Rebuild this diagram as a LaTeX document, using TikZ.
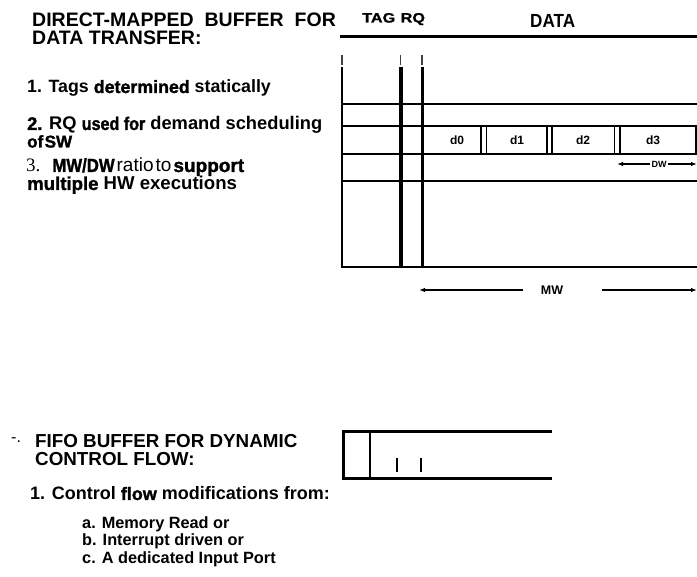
\documentclass[tikz,border=0pt]{standalone}
\usepackage{fontspec}
\setmainfont{Liberation Sans}
\newfontfamily\heavyfont[FakeBold=1.5]{Liberation Sans}
\newfontfamily\condheavy[FakeStretch=0.88,FakeBold=1.5]{Liberation Sans}
\newfontfamily\widefont[FakeStretch=1.2,FakeBold=1.2]{Liberation Sans}
\newfontfamily\datafont[FakeStretch=0.9]{Liberation Sans}
\newfontfamily\seriffont{Liberation Serif}
\usetikzlibrary{arrows.meta}
\begin{document}
\begin{tikzpicture}[x=1pt,y=-1pt,
  txt/.style={anchor=base west,inner sep=0pt,text depth=0pt,font=\bfseries\fontsize{18.3}{18.3}\selectfont},
  ttl/.style={txt,font=\bfseries\fontsize{19.5}{19.5}\selectfont},
  sub/.style={txt,font=\bfseries\fontsize{16.3}{16.3}\selectfont},
  cell/.style={inner sep=0pt,font=\bfseries\fontsize{12}{12}\selectfont},
  grid/.style={line width=2pt},
  sep/.style={line width=1.2pt},
  dim/.style={line width=1.6pt,-{Latex[length=6pt,width=4.5pt]}},
  hdr/.style={anchor=base west,inner sep=0pt}]
\useasboundingbox (0,0) rectangle (697,577);

% ---------- top texts ----------
\node[ttl] (t1) at (32,27) {DIRECT-MAPPED\hspace{11pt}BUFFER\hspace{11pt}FOR};
\node[ttl] (t2) at (32,45) {DATA TRANSFER:};
\node[txt,font=\bfseries\fontsize{17.8}{17.8}\selectfont] (i1) at (27,93) {1. Tags {\heavyfont\bfseries determined} statically};
\node[txt] (i2) at (27,130) {{\heavyfont\bfseries 2.} RQ {\condheavy\bfseries used for} demand scheduling};
\node[txt,font=\bfseries\fontsize{17}{17}\selectfont] (i2b) at (27,147.5) {{\heavyfont\bfseries of\hspace{1.5pt}SW}};
\node[txt,font=\bfseries\fontsize{19}{19}\selectfont] (i3) at (26,172) {{\seriffont\mdseries 3.}\hspace{12pt}{\condheavy\bfseries MW/DW}\hspace{2pt}{\mdseries ratio\hspace{2pt}to}\hspace{2pt}{\heavyfont\bfseries support}};
\node[txt,font=\bfseries\fontsize{18.6}{18.6}\selectfont] (i3b) at (27,190) {{\heavyfont\bfseries multiple} HW executions};

% ---------- header labels ----------
\node[hdr,font=\widefont\bfseries\fontsize{13.5}{13.5}\selectfont] (tag) at (362,22.5) {TAG};
\node[hdr,font=\widefont\bfseries\fontsize{13.5}{13.5}\selectfont] (rq) at (400.5,22.5) {RQ};
\node[hdr,font=\datafont\bfseries\fontsize{19}{19}\selectfont] (data) at (530,27.5) {DATA};

% ---------- direct-mapped buffer ----------
\draw[line width=3pt] (340,37) -- (697,37);
\foreach \x in {342,400.5,422}{
  \draw[line width=1.4pt,black!75] (\x,55) -- (\x,65);
}
\draw[line width=2.7pt] (342,67) -- (342,268);
\draw[line width=4pt] (400.5,67) -- (400.5,268);
\draw[line width=3pt] (422,67) -- (422,268);
\foreach \y in {104,126,154,181}{
  \draw[grid] (342,\y) -- (697,\y);
}
\draw[line width=2.4pt] (340.5,267) -- (697,267);
\foreach \x in {481,486.5,547,552,614.5,620}{
  \draw[sep] (\x,126) -- (\x,154);
}
\draw[line width=1.6pt] (696,126) -- (696,154);
\node[cell] (d0) at (457,140) {d0};
\node[cell] (d1) at (517,140) {d1};
\node[cell] (d2) at (583,140) {d2};
\node[cell] (d3) at (653,140) {d3};

% DW
\node[cell,font=\bfseries\fontsize{9}{9}\selectfont,inner sep=1pt] (dw) at (659,164) {DW};
\coordinate (dwL) at (617,164);
\coordinate (dwR) at (697,164);
\draw[dim] (dw.west) -- (dwL);
\draw[dim] (dw.east) -- (dwR);

% MW
\node[cell,font=\bfseries\fontsize{12.5}{12.5}\selectfont] (mw) at (552,290) {MW};
\coordinate (mwLs) at (523,290);
\coordinate (mwL) at (419,290);
\coordinate (mwRs) at (602,290);
\coordinate (mwR) at (697,290);
\draw[dim,line width=2pt] (mwLs) -- (mwL);
\draw[dim,line width=2pt] (mwRs) -- (mwR);

% ---------- FIFO section ----------
\node[anchor=base west,inner sep=0pt,font=\fontsize{16}{16}\selectfont] (mk) at (11,443) {-.};
\node[ttl,font=\bfseries\fontsize{18.8}{18.8}\selectfont] (f1) at (35,448) {FIFO BUFFER FOR DYNAMIC};
\node[ttl,font=\bfseries\fontsize{18.8}{18.8}\selectfont] (f2) at (35,466) {CONTROL FLOW:};
\node[txt,font=\bfseries\fontsize{18}{18}\selectfont] (c1) at (30,500) {1. Control {\heavyfont\bfseries flow} modifications from:};
\node[sub] (ca) at (82,528.3) {a. Memory Read or};
\node[sub] (cb) at (82,546) {b. Interrupt driven or};
\node[sub] (cc) at (82,563.3) {c. A dedicated Input Port};

\draw[line width=3pt] (552,432) -- (343,432) -- (343,479) -- (552,479);
\draw[line width=2.5pt] (370,432) -- (370,479);
\draw[line width=2.6pt] (397,458) -- (397,472.5);
\draw[line width=2.6pt] (421,458) -- (421,472.5);
\end{tikzpicture}
\end{document}
